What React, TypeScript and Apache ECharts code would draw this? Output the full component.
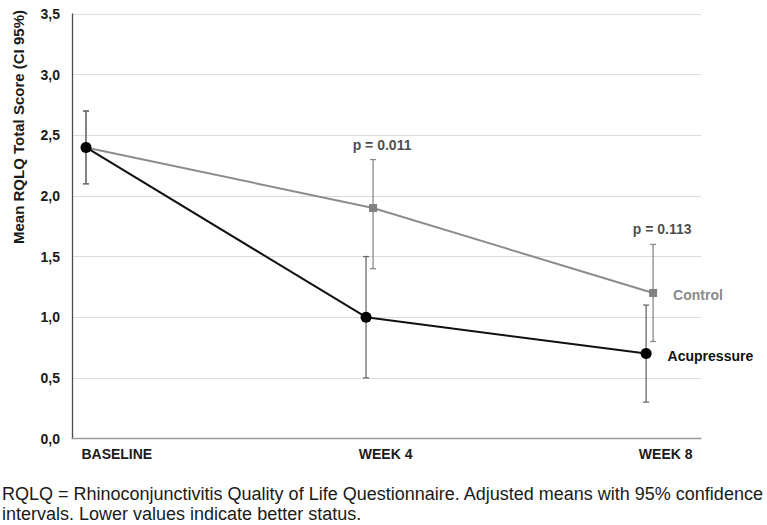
import React, { useEffect, useRef } from "react";
import * as echarts from "echarts";

const categories = ["BASELINE", "WEEK 4", "WEEK 8"];
const acuMean = [2.4, 1.0, 0.7];
const acuLow = [2.1, 0.5, 0.3];
const acuHigh = [2.7, 1.5, 1.1];
const ctrlMean = [2.4, 1.9, 1.2];
const ctrlLow = [2.1, 1.4, 0.8];
const ctrlHigh = [2.7, 2.3, 1.6];
const pValues = ["", "p = 0.011", "p = 0.113"];
const seriesNames = ["Acupressure", "Control"];
const yAxisTitle = "Mean RQLQ Total Score (CI 95%)";
const footnote1 = "RQLQ = Rhinoconjunctivitis Quality of Life Questionnaire. Adjusted means with 95% confidence";
const footnote2 = "intervals. Lower values indicate better status.";

const FONT = "'Liberation Sans', Arial, sans-serif";
const CTRL_OFFSET = [0, 0.025, 0.025];
const LABEL_POS = [0.11, 1.07, 2.07];

export default function App() {
  const ref = useRef<HTMLDivElement>(null);
  useEffect(() => {
    if (!ref.current) return;
    const chart = echarts.init(ref.current, null, { renderer: "svg" });
    const last = categories.length - 1;

    const errRender = (color: string) => (params: any, api: any) => {
      const x = api.value(0);
      const lo = api.coord([x, api.value(1)]);
      const hi = api.coord([x, api.value(2)]);
      const cap = 3;
      const style = { stroke: color, lineWidth: 1.3 };
      return {
        type: "group",
        children: [
          { type: "line", shape: { x1: lo[0], y1: lo[1], x2: hi[0], y2: hi[1] }, style },
          { type: "line", shape: { x1: lo[0] - cap, y1: lo[1], x2: lo[0] + cap, y2: lo[1] }, style },
          { type: "line", shape: { x1: hi[0] - cap, y1: hi[1], x2: hi[0] + cap, y2: hi[1] }, style },
        ],
      };
    };

    const option: any = {
      animation: false,
      grid: { left: 72, right: 66, top: 14, bottom: 86.5, containLabel: false },
      xAxis: {
        type: "value",
        min: -0.05,
        max: 2.196,
        splitLine: { show: false },
        axisLine: { show: true, onZero: false, lineStyle: { color: "#9a9a9a", width: 1.3 } },
        axisTick: { show: false },
        axisLabel: {
          customValues: LABEL_POS,
          formatter: (v: number) => categories[Math.round(v)] ?? "",
          fontFamily: FONT,
          fontWeight: "bold",
          fontSize: 14,
          color: "#1a1a1a",
          margin: 8,
        },
      },
      yAxis: {
        type: "value",
        min: 0,
        max: 3.5,
        interval: 0.5,
        axisLine: { show: true, onZero: false, lineStyle: { color: "#4a4a4a", width: 1.3 } },
        axisTick: { show: false },
        splitLine: { show: true, lineStyle: { color: "#dcdcdc", width: 1.2 } },
        axisLabel: {
          formatter: (v: number) => v.toFixed(1).replace(".", ","),
          fontFamily: FONT,
          fontWeight: "bold",
          fontSize: 14,
          color: "#1a1a1a",
          margin: 12,
        },
      },
      graphic: [
        {
          type: "text",
          x: 18,
          y: 127,
          rotation: Math.PI / 2,
          style: {
            text: yAxisTitle,
            font: `bold 15px ${FONT}`,
            fill: "#1a1a1a",
            textAlign: "center",
            textVerticalAlign: "middle",
          },
        },
        {
          type: "text",
          x: 2,
          y: 494,
          style: {
            text: footnote1,
            font: `18px ${FONT}`,
            fill: "#1a1a1a",
            textAlign: "left",
            textVerticalAlign: "middle",
          },
        },
        {
          type: "text",
          x: 2,
          y: 514,
          style: {
            text: footnote2,
            font: `18px ${FONT}`,
            fill: "#1a1a1a",
            textAlign: "left",
            textVerticalAlign: "middle",
          },
        },
      ],
      series: [
        {
          type: "custom",
          name: "ctrlErr",
          renderItem: errRender("#8a8a8a"),
          encode: { x: 0, y: [1, 2] },
          data: categories.map((_, i) => [i + CTRL_OFFSET[i], ctrlLow[i], ctrlHigh[i]]),
          z: 1,
        },
        {
          type: "line",
          name: seriesNames[1],
          data: categories.map((_, i) => ({
            value: [i + CTRL_OFFSET[i], ctrlMean[i]],
            label:
              i === last
                ? {
                    show: true,
                    formatter: seriesNames[1],
                    position: "right",
                    distance: 16,
                    offset: [0, 2],
                    fontFamily: FONT,
                    fontWeight: "bold",
                    fontSize: 14,
                    color: "#8a8a8a",
                  }
                : { show: false },
          })),
          symbol: "rect",
          symbolSize: 8,
          itemStyle: { color: "#808080" },
          lineStyle: { color: "#8c8c8c", width: 2 },
          z: 2,
        },
        {
          type: "custom",
          name: "acuErr",
          renderItem: errRender("#6a6a6a"),
          encode: { x: 0, y: [1, 2] },
          data: categories.map((_, i) => [i, acuLow[i], acuHigh[i]]),
          z: 3,
        },
        {
          type: "line",
          name: seriesNames[0],
          data: categories.map((_, i) => ({
            value: [i, acuMean[i]],
            label:
              i === last
                ? {
                    show: true,
                    formatter: seriesNames[0],
                    position: "right",
                    distance: 16,
                    offset: [0, 2],
                    fontFamily: FONT,
                    fontWeight: "bold",
                    fontSize: 14,
                    color: "#111111",
                  }
                : { show: false },
          })),
          symbol: "circle",
          symbolSize: 11,
          itemStyle: { color: "#000000" },
          lineStyle: { color: "#111111", width: 2 },
          z: 4,
        },
        {
          type: "scatter",
          name: "pvalues",
          symbolSize: 0,
          data: categories
            .map((_, i) => ({
              value: [i + CTRL_OFFSET[i], ctrlHigh[i]],
              p: pValues[i],
            }))
            .filter((d) => d.p !== "")
            .map((d) => ({
              value: d.value,
              label: {
                show: true,
                formatter: d.p,
                position: "top",
                distance: 8,
                offset: [9, 0],
                fontFamily: FONT,
                fontWeight: "bold",
                fontSize: 14,
                color: "#1a1a1a",
              },
            })),
          z: 5,
        },
      ],
    };
    chart.setOption(option);
    return () => chart.dispose();
  }, []);

  return (
    <div
      ref={ref}
      style={{ position: "fixed", left: 0, top: 0, width: 767, height: 525, background: "#ffffff" }}
    />
  );
}
